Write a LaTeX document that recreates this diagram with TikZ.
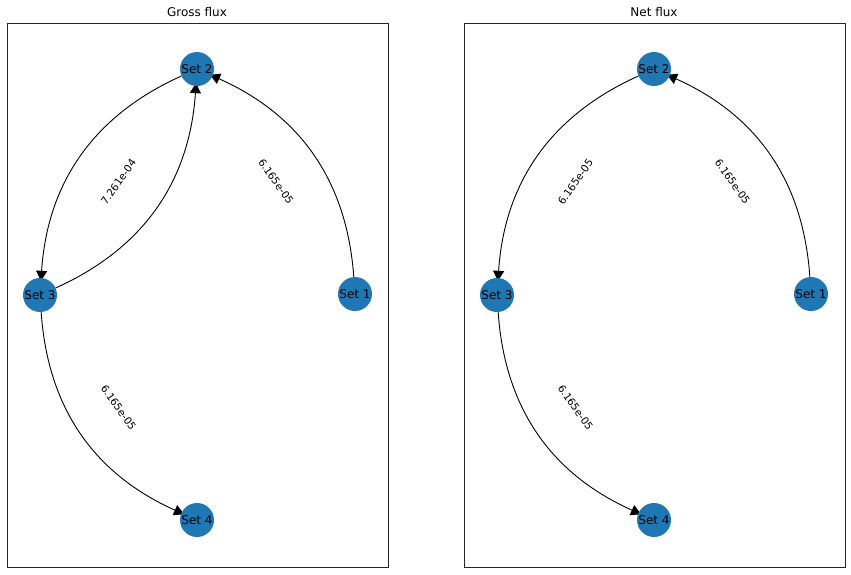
\documentclass[tikz,border=0pt]{standalone}
\usepackage{fontspec}
\setmainfont{DejaVu Sans}
\usetikzlibrary{arrows.meta,calc,backgrounds}
\definecolor{nodeblue}{RGB}{31,119,180}
\tikzset{
  setnode/.style={circle,fill=nodeblue,minimum size=34pt,inner sep=0pt,font=\fontsize{12}{14}\selectfont},
  flux/.style={draw=black,line width=0.9pt,-{Triangle[width=11pt,length=10pt]},shorten >=-3pt,bend right=31,looseness=1},
  lbl/.style={font=\fontsize{10.3}{12}\selectfont,inner sep=1pt},
  frame/.style={draw=black!85,line width=0.9pt},
  ttl/.style={font=\fontsize{12}{14}\selectfont}
}
\begin{document}
\begin{tikzpicture}[x=1pt,y=-1pt]
\useasboundingbox (0,0) rectangle (851,574);
% panels
\draw[frame] (7,23) rectangle (388,567);
\draw[frame] (464,23) rectangle (845,567);
\node[ttl] (t1) at (197,12) {Gross flux};
\node[ttl] (t2) at (654,12) {Net flux};
% gross nodes
\node[setnode] (g2) at (197,69) {Set 2};
\node[setnode] (g3) at (40,295) {Set 3};
\node[setnode] (g1) at (355,294) {Set 1};
\node[setnode] (g4) at (197,520) {Set 4};
% net nodes
\node[setnode] (n2) at (654,69) {Set 2};
\node[setnode] (n3) at (497,295) {Set 3};
\node[setnode] (n1) at (811,294) {Set 1};
\node[setnode] (n4) at (654,520) {Set 4};
% edges behind nodes
\begin{pgfonlayer}{background}
\draw[flux] (g1) to (g2);
\draw[flux] (g2) to (g3);
\draw[flux] (g3) to (g2);
\draw[flux] (g3) to (g4);
\draw[flux] (n1) to (n2);
\draw[flux] (n2) to (n3);
\draw[flux] (n3) to (n4);
\end{pgfonlayer}
% labels
\node[lbl,rotate=55] (lg23) at ($(g3)!0.5!(g2)$) {7.261e-04};
\node[lbl,rotate=-55] (lg12) at ($(g1)!0.5!(g2)$) {6.165e-05};
\node[lbl,rotate=-55] (lg34) at ($(g3)!0.5!(g4)$) {6.165e-05};
\node[lbl,rotate=55] (ln23) at ($(n3)!0.5!(n2)$) {6.165e-05};
\node[lbl,rotate=-55] (ln12) at ($(n1)!0.5!(n2)$) {6.165e-05};
\node[lbl,rotate=-55] (ln34) at ($(n3)!0.5!(n4)$) {6.165e-05};
\end{tikzpicture}
\end{document}
